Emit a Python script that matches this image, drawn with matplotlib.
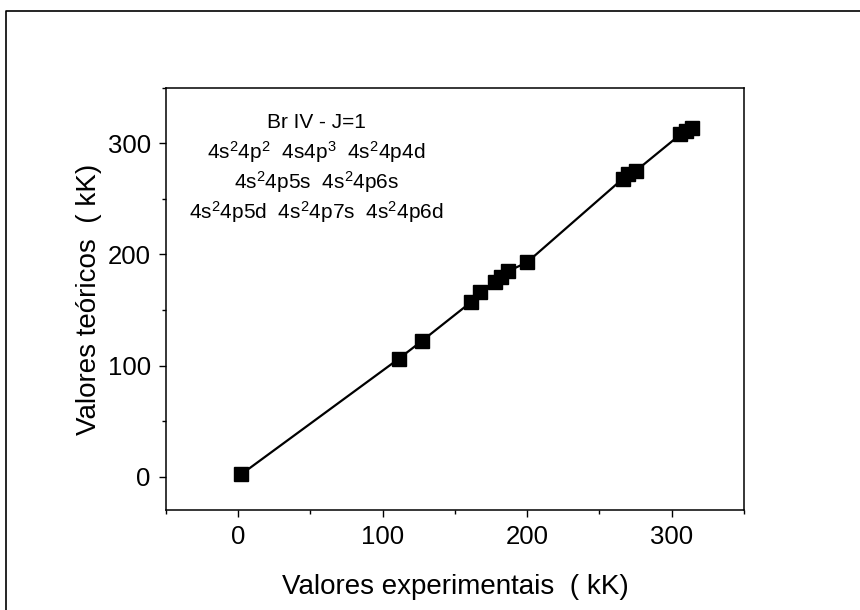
import numpy as np
import matplotlib.pyplot as plt
from matplotlib.lines import Line2D
from matplotlib.ticker import MultipleLocator

plt.rcParams['font.family'] = ['Liberation Sans', 'DejaVu Sans']
plt.rcParams['mathtext.default'] = 'regular'

# experimental vs theoretical energies (kK)
exp_vals = [2, 111, 127, 161, 167, 178, 182, 187, 200, 266, 270, 275, 306, 310, 314]
teo_vals = [2, 106, 122, 157, 166, 175, 180, 185, 193, 268, 272, 275, 308, 311, 314]

info_lines = [
    'Br IV - J=1',
    r'4s$^2$4p$^2$  4s4p$^3$  4s$^2$4p4d',
    r'4s$^2$4p5s  4s$^2$4p6s',
    r'4s$^2$4p5d  4s$^2$4p7s  4s$^2$4p6d',
]

fig = plt.figure(figsize=(8.6, 6.1), dpi=100)
ax = fig.add_axes([0.193, 0.164, 0.672, 0.692])

ax.plot(exp_vals, teo_vals, color='black', linewidth=1.6,
        marker='s', markersize=10.5, markerfacecolor='black',
        markeredgecolor='black')

ax.set_xlim(-50, 350)
ax.set_ylim(-30, 350)
ax.xaxis.set_major_locator(MultipleLocator(100))
ax.xaxis.set_minor_locator(MultipleLocator(50))
ax.yaxis.set_major_locator(MultipleLocator(100))
ax.yaxis.set_minor_locator(MultipleLocator(50))
ax.tick_params(which='major', direction='out', length=5, width=1, labelsize=18.5, pad=6)
ax.tick_params(which='minor', direction='out', length=3, width=1)
ax.tick_params(top=False, right=False, which='both')
for s in ax.spines.values():
    s.set_linewidth(1.1)

ax.set_xlabel('Valores experimentais  ( kK)', fontsize=20, labelpad=18)
ax.set_ylabel('Valores teóricos  ( kK)', fontsize=20, labelpad=4)

# text block
y0 = 0.918
for i, t in enumerate(info_lines):
    ax.text(0.26, y0 - i * 0.071, t, transform=ax.transAxes,
            ha='center', va='center', fontsize=15)

# figure frame (left and top only)
fig.add_artist(Line2D([0.007, 0.007, 1.0], [0.0, 0.982, 0.982],
                      transform=fig.transFigure, color='black', linewidth=1.2))

fig.savefig('out.png', dpi=100)
